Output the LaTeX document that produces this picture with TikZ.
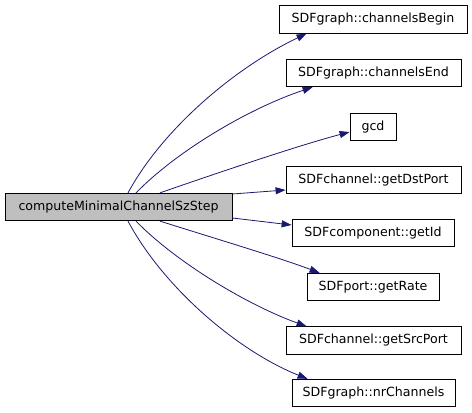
\documentclass[tikz,border=0pt]{standalone}
\usepackage{fontspec}
\setmainfont{DejaVu Sans}
\usetikzlibrary{arrows.meta,calc}
\definecolor{edgeblue}{HTML}{191970}
\definecolor{maingray}{HTML}{BFBFBF}
\begin{document}
\begin{tikzpicture}[x=1pt,y=-1pt,
  fn/.style={draw=black,line width=0.8pt,fill=white,minimum height=27.5pt,inner sep=0pt,font=\fontsize{12.6}{14}\selectfont},
  call/.style={draw=edgeblue,line width=0.8pt,-{Triangle[length=10pt,width=7pt]},fill=none}]
\useasboundingbox (0,0) rectangle (472,413);
\node[fn,fill=maingray,minimum width=227pt] (main) at (118.5,207) {computeMinimalChannelSzStep};
\node[fn,minimum width=188pt] (t1) at (373,19.5) {SDFgraph::channelsBegin};
\node[fn,minimum width=175pt] (t2) at (373.5,73) {SDFgraph::channelsEnd};
\node[fn,minimum width=46pt] (t3) at (373,127) {gcd};
\node[fn,minimum width=175pt] (t4) at (373.5,180) {SDFchannel::getDstPort};
\node[fn,minimum width=162pt] (t5) at (373,233) {SDFcomponent::getId};
\node[fn,minimum width=132pt] (t6) at (373,287) {SDFport::getRate};
\node[fn,minimum width=175pt] (t7) at (373.5,340.5) {SDFchannel::getSrcPort};
\node[fn,minimum width=163pt] (t8) at (373.5,393) {SDFgraph::nrChannels};
\draw[call] ([xshift=9.5pt]main.north) .. controls (165,125) and (240,65) .. ([xshift=28pt]t1.south west);
\draw[call] ([xshift=17.5pt]main.north) .. controls (178,150) and (250,108) .. ([xshift=27pt]t2.south west);
\draw[call] ([xshift=41.5pt]main.north) .. controls (220,172) and (300,145) .. ([yshift=-5pt]t3.west);
\draw[call] ([yshift=13pt]main.east) -- ([yshift=-10pt]t4.west);
\draw[call] ([yshift=-11pt]main.east) -- ([yshift=8pt]t5.west);
\draw[call] ([xshift=41.5pt]main.south) .. controls (220,240) and (280,258) .. ([xshift=13pt]t6.north west);
\draw[call] ([xshift=17.5pt]main.south) .. controls (178,264) and (250,306) .. ([xshift=21pt]t7.north west);
\draw[call] ([xshift=9.5pt]main.south) .. controls (165,290) and (240,352) .. ([xshift=16pt]t8.north west);
\end{tikzpicture}
\end{document}
